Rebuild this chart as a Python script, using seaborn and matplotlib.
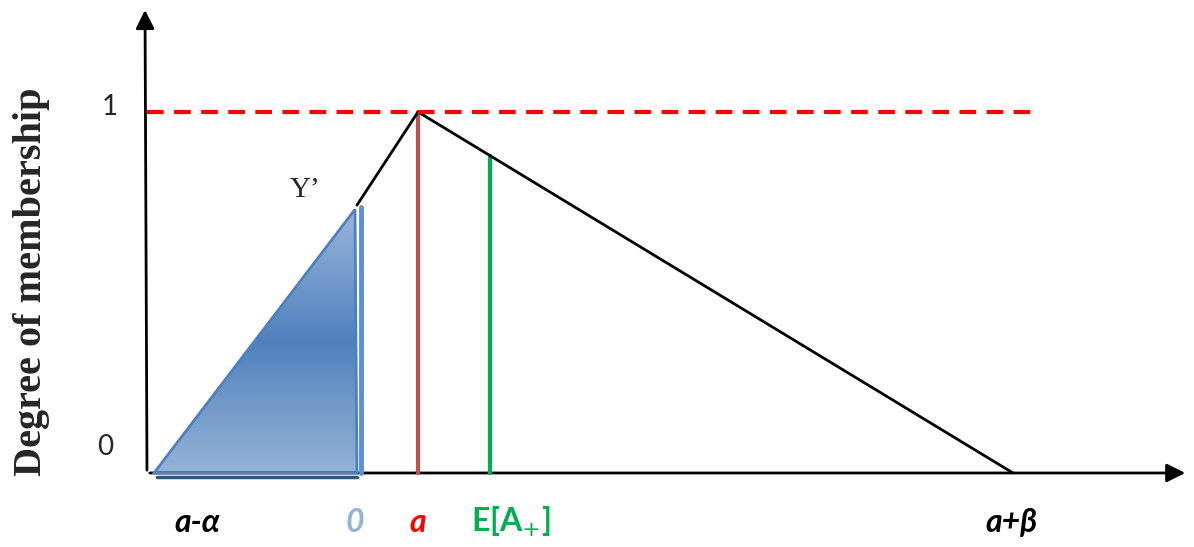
import numpy as np
import pandas as pd
import seaborn as sns
import matplotlib.pyplot as plt
from matplotlib.patches import Polygon
from matplotlib.colors import LinearSegmentedColormap

# membership function points (x in arbitrary units, degree of membership)
mf_x = [2.02, 2.63, 8.58]
mf_y = [0.742, 1.0, 0.0]
zero_x = 2.02          # location of the "0" marker / Y'
e_x = 3.35             # expected value E[A+]
e_y = 0.879
yprime = 0.73
tick_labels = ['a-\u03b1', '0', 'a', 'E[A$_{+}$]', 'a+\u03b2']
tick_pos = [0.42, 2.0, 2.63, 3.56, 8.57]
tick_colors = ['black', '#95b3d7', '#ff0000', '#00b050', 'black']

sns.set_style('white')
fig = plt.figure(figsize=(11.94, 5.47), dpi=100)
ax = fig.add_axes([0, 0, 1, 1])
ax.set_xlim(-1.55, 10.39)
ax.set_ylim(-0.205, 1.310)
ax.axis('off')

# arrows for axes
ax.annotate('', xy=(10.33, 0), xytext=(-0.08, 0),
            arrowprops=dict(arrowstyle='-|>', color='black', lw=2, mutation_scale=28))
ax.annotate('', xy=(-0.10, 1.29), xytext=(-0.08, 0),
            arrowprops=dict(arrowstyle='-|>', color='black', lw=2, mutation_scale=28))

# shaded triangle with gradient
tri = [(-0.01, 0), (zero_x - 0.02, yprime), (zero_x, 0)]
cmap = LinearSegmentedColormap.from_list('grad', ['#95b3d7', '#4f81bd', '#9ab5da'])
grad = np.linspace(0, 1, 256).reshape(-1, 1)
im = ax.imshow(grad, cmap=cmap, aspect='auto', extent=(-0.05, zero_x + 0.02, 0, yprime),
               origin='lower', zorder=2)
poly = Polygon(tri, closed=True, facecolor='none', edgecolor='#4f81bd', lw=2, zorder=3)
ax.add_patch(poly)
im.set_clip_path(poly)
# shadow under the triangle
ax.plot([0.02, zero_x], [-0.011, -0.011], color='#34547e', lw=2.5, zorder=1)

# membership function
sns.lineplot(x=mf_x, y=mf_y, color='black', lw=2, ax=ax, zorder=4, sort=False)
ax.plot([zero_x + 0.04, zero_x + 0.04], [0, yprime * 1.01], color='#5b8fd6', lw=3.5, zorder=3)
ax.plot([mf_x[1], mf_x[1]], [0, 1], color='#c0504d', lw=3, zorder=3)
ax.plot([e_x, e_x], [0, e_y], color='#00b050', lw=3, zorder=3)
ax.plot([-0.08, 8.8], [1, 1], color='#ff0000', lw=3, ls=(0, (4, 2.5)), zorder=5)

# labels
ax.text(-0.45, 1.014, '1', fontsize=20, fontfamily='Lato', ha='center', va='center')
ax.text(-0.50, 0.072, '0', fontsize=20, fontfamily='Lato', ha='center', va='center')
ax.text(-1.23, 0.53, 'Degree of membership', rotation=90, fontsize=29, fontweight='bold',
        fontfamily='Liberation Serif', ha='center', va='center')
ax.text(1.5, 0.784, 'Y\u2019', fontsize=21, fontfamily='Liberation Serif', ha='center', va='center')
for pos, lab, col in zip(tick_pos, tick_labels, tick_colors):
    style = 'normal' if lab.startswith('E') else 'italic'
    ax.text(pos, -0.136, lab, fontsize=23, fontweight='bold', fontstyle=style,
            fontfamily='Lato', color=col, ha='center', va='center')

fig.savefig('out.png', dpi=100)
